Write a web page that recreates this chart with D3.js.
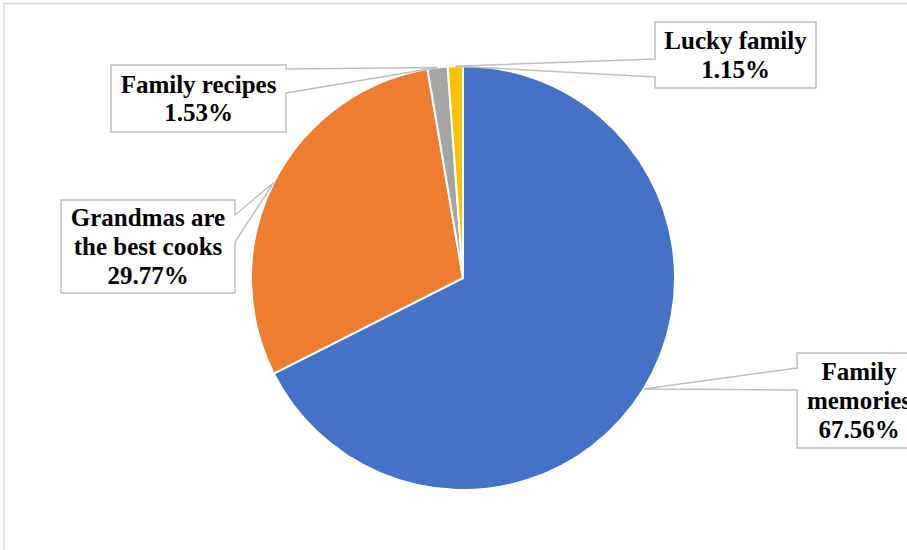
<!DOCTYPE html>
<html>
<head>
<meta charset="utf-8">
<script src="https://cdn.jsdelivr.net/npm/d3@7"></script>
<style>
  html, body { margin: 0; padding: 0; background: #ffffff; }
  svg { display: block; }
  .callout-text { font-family: "Liberation Serif", "Times New Roman", serif; font-weight: bold; font-size: 25px; fill: #000000; }
</style>
</head>
<body>
<svg id="chart" width="907" height="550"></svg>
<script>
// Share of responses per theme (percent), clockwise from 12 o'clock
const categories = ["Family memories", "Grandmas are the best cooks", "Family recipes", "Lucky family"];
const values = [67.56, 29.77, 1.53, 1.15];
const labelLines = [["Family", "memories"], ["Grandmas are", "the best cooks"], ["Family recipes"], ["Lucky family"]];
const colors = ["#4472C4", "#ED7D31", "#A5A5A5", "#FFC000"];

// Callout boxes: box rectangle, the side the pointer leaves from and where along that side
const calloutLayout = [
  { x: 797, y: 353, w: 124, h: 95, side: "left",  b1: 368, b2: 390 },
  { x: 61,  y: 200, w: 174, h: 93, side: "right", b1: 215, b2: 242 },
  { x: 111, y: 65,  w: 175, h: 67, side: "right", b1: 69,  b2: 93 },
  { x: 655, y: 22,  w: 161, h: 66, side: "left",  b1: 59,  b2: 77 }
];

const svg = d3.select("#chart");
const W = 907, H = 550;
const cx = 463, cy = 278, R = 212;

// chart area frame
svg.append("rect")
  .attr("x", 4).attr("y", 3.5)
  .attr("width", W + 10).attr("height", H + 10)
  .attr("fill", "#ffffff")
  .attr("stroke", "#d9d9d9").attr("stroke-width", 1.5);

const data = categories.map((c, i) => ({ name: c, value: values[i], lines: labelLines[i], color: colors[i], layout: calloutLayout[i] }));

const pie = d3.pie().value(d => d.value).sort(null);
const arcs = pie(data);
const arc = d3.arc().innerRadius(0).outerRadius(R);

const g = svg.append("g").attr("transform", `translate(${cx},${cy})`);
g.selectAll("path.slice")
  .data(arcs)
  .join("path")
  .attr("class", "slice")
  .attr("d", arc)
  .attr("fill", d => d.data.color)
  .attr("stroke", "#ffffff")
  .attr("stroke-width", 2)
  .attr("stroke-linejoin", "round");

// callouts: rectangle with a wedge pointing at the slice's outer edge (mid-angle)
function calloutPath(L, tx, ty) {
  const x0 = L.x, y0 = L.y, x1 = L.x + L.w, y1 = L.y + L.h;
  if (L.side === "right") {
    return `M${x0},${y0}H${x1}V${L.b1}L${tx},${ty}L${x1},${L.b2}V${y1}H${x0}Z`;
  }
  return `M${x0},${y0}H${x1}V${y1}H${x0}V${L.b2}L${tx},${ty}L${x0},${L.b1}Z`;
}

const fmt = d3.format(".2f");
const callouts = svg.append("g");
arcs.forEach(a => {
  const mid = (a.startAngle + a.endAngle) / 2;
  const tx = cx + R * Math.sin(mid);
  const ty = cy - R * Math.cos(mid);
  const L = a.data.layout;
  const grp = callouts.append("g");
  grp.append("path")
    .attr("d", calloutPath(L, tx, ty))
    .attr("fill", "#ffffff")
    .attr("stroke", "#bfbfbf")
    .attr("stroke-width", 1.5)
    .attr("stroke-linejoin", "miter");
  const lines = a.data.lines.concat([fmt(a.data.value) + "%"]);
  const lh = 28.8;
  const top = L.y + L.h / 2 - lines.length * lh / 2;
  const text = grp.append("text")
    .attr("class", "callout-text")
    .attr("text-anchor", "middle");
  lines.forEach((s, i) => {
    text.append("tspan")
      .attr("x", L.x + L.w / 2)
      .attr("y", top + i * lh + 22.8)
      .text(s);
  });
});
</script>
</body>
</html>
